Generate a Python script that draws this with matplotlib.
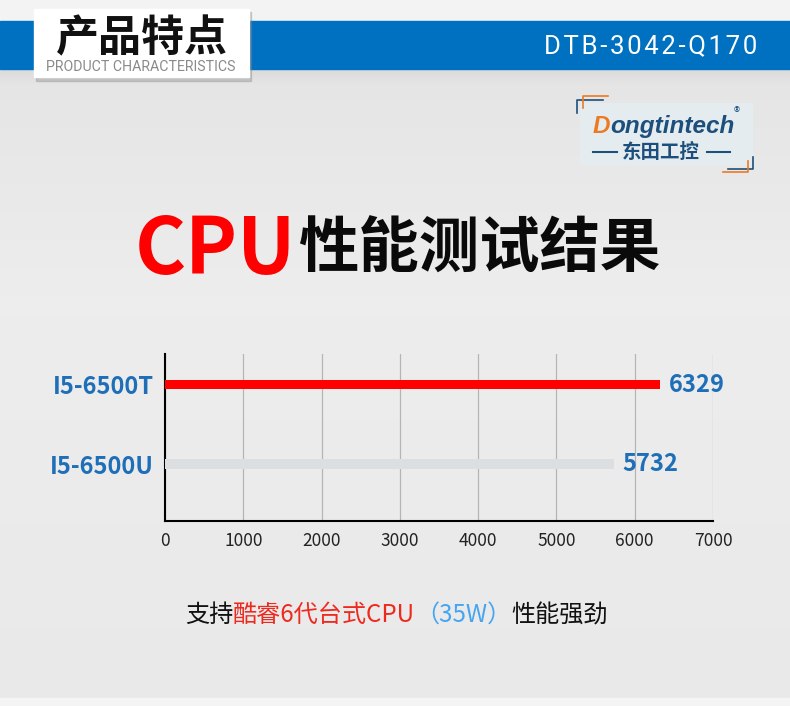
import matplotlib.pyplot as plt
import numpy as np
from matplotlib.patches import Rectangle

categories = ['I5-6500T', 'I5-6500U']
scores = [6329, 5732]
bar_colors = ['#ff0000', '#dcdfe2']
x_ticks = [0, 1000, 2000, 3000, 4000, 5000, 6000, 7000]

caption_parts = [('支持', '#111111'), ('酷睿6代台式CPU', '#ee2a1f'),
                 ('（35W）', '#45a5f0'), ('性能强劲', '#111111')]

plt.rcParams['font.family'] = ['Noto Sans CJK SC', 'DejaVu Sans']

fig = plt.figure(figsize=(7.9, 7.06), dpi=100)
fig.patch.set_facecolor('#ebebeb')

# background layer in pixel coordinates
bg = fig.add_axes([0, 0, 1, 1])
bg.axis('off')
rows = np.arange(69, 699)
shade = np.interp(rows, [69, 85, 300, 698], [0.86, 0.9, 0.93, 0.915])
img = np.repeat(shade[:, None, None], 3, axis=2)
bg.imshow(img, extent=[0, 790, 699, 69], aspect='auto', zorder=0)
bg.add_patch(Rectangle((0, 0), 790, 21, color='#f3f3f3', zorder=1))
bg.add_patch(Rectangle((0, 21), 790, 48, color='#0070c0', zorder=1))
bg.add_patch(Rectangle((0, 698), 790, 8, color='#f4f4f4', zorder=1))

# header box
bg.add_patch(Rectangle((36, 12), 215, 69, color='#888888', alpha=0.35, zorder=2))
bg.add_patch(Rectangle((34, 9), 215, 68, color='white', zorder=3))
bg.text(142, 38, '产品特点', fontsize=31, fontweight='bold', color='#111111',
        ha='center', va='center', zorder=4)
bg.text(141, 67, 'PRODUCT CHARACTERISTICS', fontsize=10.2, color='#8a8a8a',
        family=['Roboto', 'DejaVu Sans'], ha='center', va='center', zorder=4)
bg.text(757, 46, '\u200a'.join('DTB-3042-Q170'), fontsize=18.5,
        color='white', family=['Roboto', 'DejaVu Sans'], ha='right', va='center', zorder=4)

# logo
bg.add_patch(Rectangle((580, 103), 172, 61, color='#e4ecf0', zorder=2))
navy = '#1d4f7c'
orange = '#ec7a23'
bg.plot([577, 577, 603], [113, 100, 100], color=navy, lw=1.2, zorder=3)
bg.plot([583, 583, 608], [108, 96, 96], color=orange, lw=1.2, zorder=3)
bg.plot([753, 753, 728], [157, 169, 169], color=navy, lw=1.2, zorder=3)
bg.plot([748, 748, 723], [161, 172, 172], color=orange, lw=1.2, zorder=3)
t = bg.text(593, 133, 'D', fontsize=17.5, fontweight='bold', style='italic', color=orange,
            family=['Liberation Sans', 'DejaVu Sans'], va='baseline', zorder=4)
fig.canvas.draw()
r = fig.canvas.get_renderer()
x1 = t.get_window_extent(r).x1
bg.text(x1, 133, 'ongtintech', fontsize=17.5, fontweight='bold', style='italic', color=navy,
        family=['Liberation Sans', 'DejaVu Sans'], va='baseline', zorder=4)
bg.text(737, 113, '®', fontsize=9, color=navy, ha='center', va='center', zorder=4)
bg.plot([593, 617], [152, 152], color=navy, lw=1.5, zorder=3)
bg.plot([707, 730], [152, 152], color=navy, lw=1.5, zorder=3)
bg.text(661, 152, '东田工控', fontsize=14, fontweight='bold', color=navy,
        ha='center', va='center', zorder=4)

# title
t = bg.text(135, 274, 'CPU', fontsize=56, fontweight='bold', color='#ff0000',
            va='baseline', zorder=4)
fig.canvas.draw()
x1 = t.get_window_extent(r).x1
bg.text(x1 + 2, 268, '性能测试结果', fontsize=43.5, fontweight='heavy', color='#0a0a0a',
        va='baseline', zorder=4)

# caption
x = 185
for txt, col in caption_parts:
    t = bg.text(x, 615, txt, fontsize=17.4, color=col, va='center', zorder=4)
    fig.canvas.draw()
    x = t.get_window_extent(r).x1

bg.set_xlim(0, 790)
bg.set_ylim(706, 0)

# bar chart
ax = fig.add_axes([165 / 790, (706 - 521) / 706, 548 / 790, 167 / 706])
ax.set_facecolor('none')
ypos = [1, 0]
ax.barh(ypos, scores, height=0.12, color=bar_colors, zorder=3)
for y, v in zip(ypos, scores):
    ax.annotate(str(v), (v, y), xytext=(6, 0), textcoords='offset points',
                va='center', ha='left', fontsize=17, fontweight='bold', color='#1f6fb8')
ax.set_xlim(0, 7000)
ax.set_ylim(-0.717, 1.384)
ax.set_xticks(x_ticks)
ax.set_xticklabels([str(v) for v in x_ticks], fontsize=12.5, color='#222222')
ax.set_yticks(ypos)
ax.set_yticklabels(categories, fontsize=17, fontweight='bold', color='#1f6fb8')
ax.tick_params(axis='both', length=0)
ax.tick_params(axis='x', pad=8)
ax.tick_params(axis='y', pad=8)
ax.grid(axis='x', color='#b5b5b5', lw=0.9, zorder=0)
ax.spines['top'].set_visible(False)
ax.spines['right'].set_visible(False)
ax.spines['left'].set_linewidth(1.5)
ax.spines['bottom'].set_linewidth(1.5)

fig.savefig('out.png', dpi=100)
